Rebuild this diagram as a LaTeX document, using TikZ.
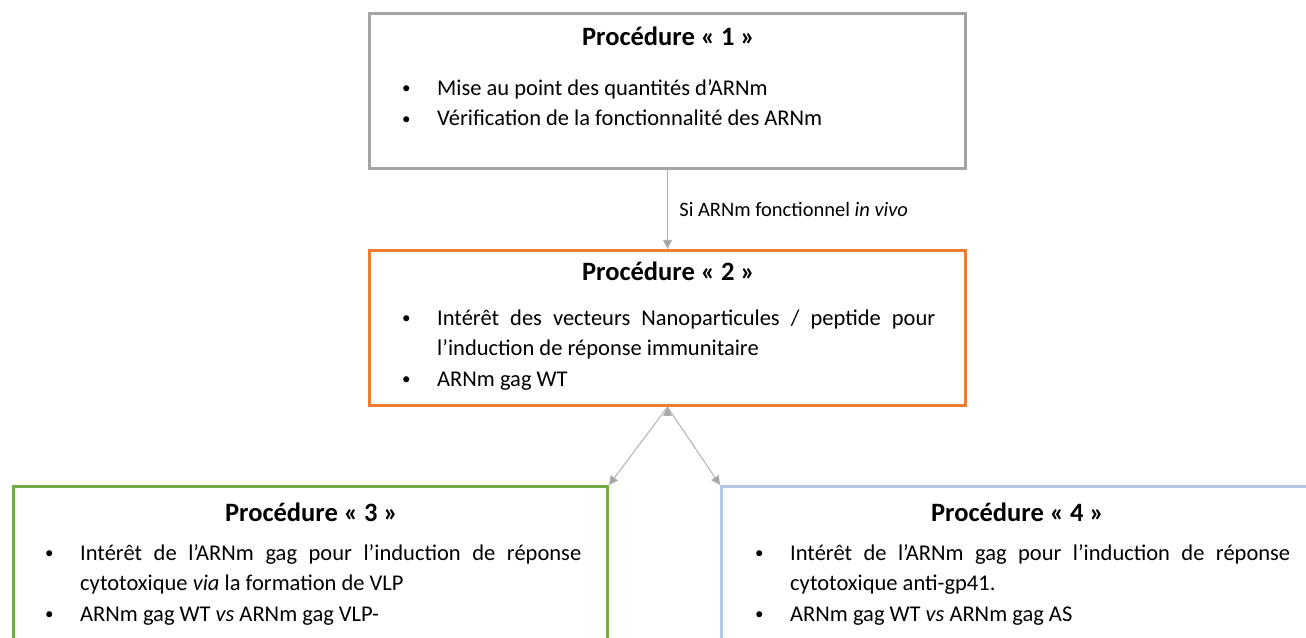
\documentclass[tikz,border=0pt]{standalone}
\usepackage{fontspec}
\setmainfont{Carlito}
\usetikzlibrary{positioning, arrows.meta}
\usepackage{xcolor}

\definecolor{procgray}{HTML}{A5A5A5}
\definecolor{procorange}{HTML}{ED7D31}
\definecolor{procgreen}{HTML}{70AD47}
\definecolor{procblue}{HTML}{B4C7E7}
\definecolor{linkgray}{HTML}{B0B0B0}

\newcommand{\itembul}{\makebox[35pt][l]{\raisebox{1.5pt}{\fontsize{17}{17}\selectfont\textbullet}}}
\newcommand{\itemgap}{\hspace*{35pt}}

\begin{document}
\begin{tikzpicture}[x=1pt, y=1pt, node distance=237pt, on grid,
        proc/.style={rectangle, line width=3pt, minimum width=596pt, minimum height=155pt, inner sep=0pt},
        title/.style={font=\bfseries\fontsize{26.5}{30}\selectfont, anchor=base, inner sep=0pt},
        items/.style={font=\fontsize{22.5}{30.5}\selectfont, anchor=north west, inner sep=0pt, align=left},
        link/.style={draw=linkgray, line width=1pt, -{Triangle[length=9pt, width=9pt, fill=procgray]}}]

        \clip (0,0) rectangle (1306,637);

        % Boxes
        \node[proc, draw=procgray] (p1) at (667.5,546) {};
        \node[proc, draw=procorange] (p2) [below=of p1] {};
        \node[proc, draw=procgreen, anchor=north west, minimum width=594pt, minimum height=240pt] (p3) at (12,152) {};
        \node[proc, draw=procblue, anchor=north west, minimum width=600pt, minimum height=240pt] (p4) at (720,152) {};

        % Titles
        \node[title] (t1) at ([xshift=1pt, yshift=-34pt]p1.north) {Procédure « 1 »};
        \node[title] (t2) at ([xshift=1pt, yshift=-32pt]p2.north) {Procédure « 2 »};
        \node[title] (t3) at ([xshift=1pt, yshift=-37pt]p3.north) {Procédure « 3 »};
        \node[title] (t4) at ([xshift=-4pt, yshift=-37pt]p4.north) {Procédure « 4 »};

        % Items
        \node[items] (l1) at ([xshift=34pt, yshift=-61.6pt]p1.north west)
            {\strut\itembul Mise au point des quantités d’ARNm\\
             \itembul Vérification de la fonctionnalité des ARNm};
        \node[items] (l2) at ([xshift=34pt, yshift=-54.6pt]p2.north west)
            {\strut\itembul\makebox[498pt][s]{Intérêt des vecteurs Nanoparticules / peptide pour}\\
             \itemgap l’induction de réponse immunitaire\\
             \itembul ARNm gag WT};
        \node[items] (l3) at ([xshift=33pt, yshift=-53.6pt]p3.north west)
            {\strut\itembul\makebox[501pt][s]{Intérêt de l’ARNm gag pour l’induction de réponse}\\
             \itemgap cytotoxique \textit{via} la formation de VLP\\
             \itembul ARNm gag WT \textit{vs} ARNm gag VLP-};
        \node[items] (l4) at ([xshift=35pt, yshift=-53.6pt]p4.north west)
            {\strut\itembul\makebox[500pt][s]{Intérêt de l’ARNm gag pour l’induction de réponse}\\
             \itemgap cytotoxique anti-gp41.\\
             \itembul ARNm gag WT \textit{vs} ARNm gag AS};

        % Links
        \path[link]
            (p1) edge node [right, xshift=8pt, font=\fontsize{20.5}{24}\selectfont] {Si ARNm fonctionnel \textit{in vivo}} (p2)
            (p2.south) edge (p3.north east)
            (p2.south) edge (p4.north west);
    \end{tikzpicture}
\end{document}
